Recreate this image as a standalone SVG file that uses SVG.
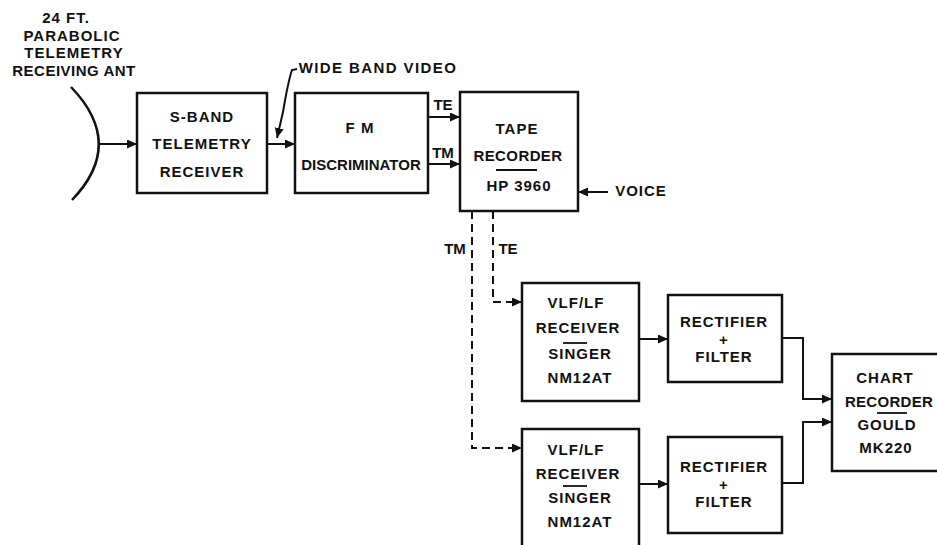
<svg xmlns="http://www.w3.org/2000/svg" width="937" height="545" viewBox="0 0 937 545">
<defs>
<style>
.box{fill:#fff;stroke:#111;stroke-width:2.5}
.ln{fill:none;stroke:#111;stroke-width:2}
.dash{fill:none;stroke:#111;stroke-width:2;stroke-dasharray:8 5}
.t{font-family:"Liberation Sans",Arial,sans-serif;font-weight:bold;font-size:15px;fill:#111;text-anchor:middle;letter-spacing:1px}
.n{letter-spacing:0}
.ul{stroke:#111;stroke-width:1.8}
</style>
<marker id="ah" markerUnits="userSpaceOnUse" markerWidth="12" markerHeight="10" refX="10" refY="4.5" orient="auto">
<path d="M0,0 L10,4.5 L0,9 z" fill="#111"/>
</marker>
</defs>
<rect width="937" height="545" fill="#fff"/>

<g id="antenna">
<path class="ln" d="M71,87 Q126,144 72,200" style="stroke-width:2.5"/>
<text class="t" x="66" y="23">24 FT.</text>
<text class="t" x="72" y="41">PARABOLIC</text>
<text class="t" x="74" y="58">TELEMETRY</text>
<text class="t" x="74" y="76" style="letter-spacing:0.5px">RECEIVING ANT</text>
</g>

<g id="sband">
<rect class="box" x="137" y="93" width="130" height="100"/>
<text class="t" x="202" y="122">S-BAND</text>
<text class="t" x="202" y="149">TELEMETRY</text>
<text class="t" x="202" y="177">RECEIVER</text>
</g>

<g id="fm">
<rect class="box" x="295" y="93" width="133" height="100"/>
<text class="t" x="360" y="133">F M</text>
<text class="t n" x="361" y="170">DISCRIMINATOR</text>
</g>

<g id="tape">
<rect class="box" x="460" y="92" width="118" height="119"/>
<text class="t" x="517" y="134">TAPE</text>
<text class="t" x="518" y="161" style="letter-spacing:0.4px">RECORDER</text>
<line class="ul" x1="496" y1="170" x2="537" y2="170"/>
<text class="t" x="519" y="191">HP 3960</text>
</g>

<g id="voice">
<text class="t" x="641" y="196">VOICE</text>
</g>

<g id="vlf1">
<rect class="box" x="522" y="283" width="117" height="118"/>
<text class="t" x="576" y="308">VLF/LF</text>
<text class="t" x="578" y="333">RECEIVER</text>
<line class="ul" x1="563" y1="343" x2="587" y2="343"/>
<text class="t" x="580" y="359">SINGER</text>
<text class="t" x="580" y="383">NM12AT</text>
</g>

<g id="vlf2">
<rect class="box" x="522" y="429" width="117" height="125"/>
<text class="t" x="576" y="455">VLF/LF</text>
<text class="t" x="578" y="479">RECEIVER</text>
<line class="ul" x1="563" y1="486" x2="587" y2="486"/>
<text class="t" x="580" y="503">SINGER</text>
<text class="t" x="580" y="527">NM12AT</text>
</g>

<g id="rect1">
<rect class="box" x="668" y="295" width="114" height="87"/>
<text class="t" x="724" y="327">RECTIFIER</text>
<text class="t" x="724" y="345">+</text>
<text class="t" x="724" y="362">FILTER</text>
</g>

<g id="rect2">
<rect class="box" x="668" y="437" width="114" height="96"/>
<text class="t" x="724" y="472">RECTIFIER</text>
<text class="t" x="724" y="490">+</text>
<text class="t" x="724" y="507">FILTER</text>
</g>

<g id="chart">
<path class="box" d="M940,354 L832,354 L832,471 L940,471"/>
<text class="t" x="885" y="383">CHART</text>
<text class="t" x="889" y="407" style="letter-spacing:0.3px">RECORDER</text>
<line class="ul" x1="877" y1="413" x2="907" y2="413"/>
<text class="t" x="887" y="430">GOULD</text>
<text class="t" x="886" y="453">MK220</text>
</g>

<g id="connectors">
<line class="ln" x1="98" y1="144" x2="137" y2="144" marker-end="url(#ah)"/>
<line class="ln" x1="267" y1="144" x2="295" y2="144" marker-end="url(#ah)"/>
<path class="ln" d="M297,69 L292,70 Q288,82 283,112 L277,138" marker-end="url(#ah)"/>
<text class="t" x="378" y="73" style="letter-spacing:1.4px">WIDE BAND VIDEO</text>
<line class="ln" x1="428" y1="117" x2="460" y2="117" marker-end="url(#ah)"/>
<line class="ln" x1="428" y1="164" x2="460" y2="164" marker-end="url(#ah)"/>
<text class="t n" x="443" y="110">TE</text>
<text class="t n" x="443" y="158">TM</text>
<line class="ln" x1="608" y1="192" x2="578" y2="192" marker-end="url(#ah)"/>
<path class="dash" d="M493,211 L493,302 L522,302" marker-end="url(#ah)"/>
<path class="dash" d="M472,211 L472,448 L522,448" marker-end="url(#ah)"/>
<text class="t n" x="455" y="254">TM</text>
<text class="t n" x="508" y="254">TE</text>
<line class="ln" x1="639" y1="339" x2="668" y2="339" marker-end="url(#ah)"/>
<line class="ln" x1="639" y1="484" x2="668" y2="484" marker-end="url(#ah)"/>
<path class="ln" d="M782,338 L803,338 L803,399 L832,399" marker-end="url(#ah)"/>
<path class="ln" d="M782,483 L803,483 L803,422 L832,422" marker-end="url(#ah)"/>
</g>
</svg>
